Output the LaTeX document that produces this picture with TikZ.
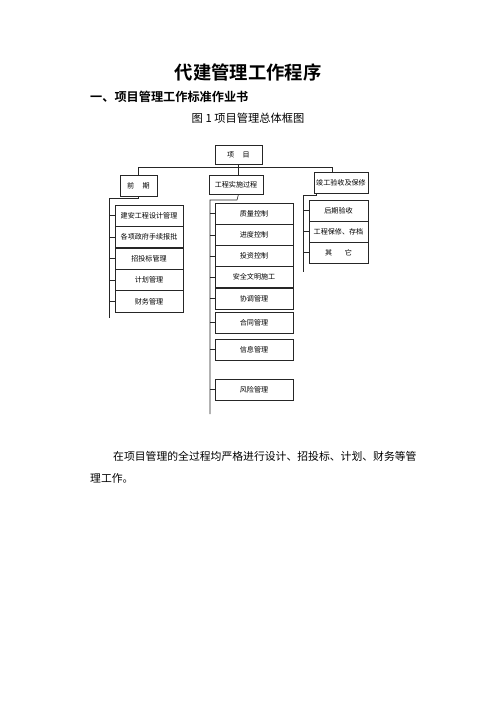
\documentclass[tikz,border=0pt]{standalone}
\usepackage{fontspec}
\setmainfont{Noto Sans CJK SC}[BoldFont={Noto Sans CJK SC Bold}]
\usetikzlibrary{calc}
\tikzset{
  bx/.style={draw=black!85, line width=0.7pt, rectangle, inner sep=0pt, font=\fontsize{8.5pt}{9pt}\selectfont},
  cbox/.style={bx, minimum height=25.5pt},
  ln/.style={draw=black!85, line width=0.7pt},
}
\begin{document}
\begin{tikzpicture}[x=1.2pt,y=-1.2pt]
\useasboundingbox (0,0) rectangle (496,702);
% texts
\node[font=\fontsize{22pt}{24pt}\selectfont\bfseries] (title) at (248,72) {代建管理工作程序};
\node[font=\fontsize{14.6pt}{16pt}\selectfont\bfseries, anchor=west, inner sep=0pt] (head) at (90,97) {一、项目管理工作标准作业书};
\node[font=\fontsize{13.5pt}{15pt}\selectfont] (cap) at (248,118) {图 1 项目管理总体框图};
% top level
\node[bx, minimum width=56.4pt, minimum height=22.8pt] (xm) at (238.5,154.5) {项\hspace{1.2em}目};
\node[bx, minimum width=44.4pt, minimum height=25.2pt] (qq) at (138.5,185.5) {前\hspace{1.2em}期};
\node[bx, minimum width=64.8pt, minimum height=22.8pt] (gc) at (236,184.5) {工程实施过程};
\node[bx, minimum width=64.8pt, minimum height=25.2pt] (jg) at (341,182.5) {竣工验收及保修};
% qq children
\foreach \n/\t [count=\i from 0] in {a1/建安工程设计管理,a2/各项政府手续报批,a3/招投标管理,a4/计划管理,a5/财务管理}{
  \node[cbox, minimum width=81.6pt] (\n) at (149,{215.7+21.4*\i}) {\t};
}
% gc children
\foreach \n/\t [count=\i from 0] in {b1/质量控制,b2/进度控制,b3/投资控制,b4/安全文明施工,b5/协调管理}{
  \node[cbox, minimum width=93.6pt] (\n) at (254,{213.6+21.2*\i}) {\t};
}
\node[cbox, minimum width=93.6pt] (b6) at (254,322.5) {合同管理};
\node[cbox, minimum width=93.6pt] (b7) at (254,349.5) {信息管理};
\node[cbox, minimum width=93.6pt] (b8) at (254,389.5) {风险管理};
% jg children
\node[cbox, minimum width=70.8pt] (c1) at (338.5,210.5) {后期验收};
\node[cbox, minimum width=70.8pt] (c2) at (338.5,231.5) {工程保修、存档};
\node[cbox, minimum width=70.8pt] (c3) at (338.5,252.5) {其\hspace{1.8em}它};
% connectors top
\coordinate (busL) at (138.5,167);
\coordinate (jgtop) at (332,172);
\draw[ln] (xm.south) -- (xm.south|-busL);
\draw[ln] (qq.north) -- (busL) -| (jgtop);
\draw[ln] (xm.south|-busL) -- (xm.south|-gc.north);
% qq spine
\coordinate (qs1) at (138.5,198);
\coordinate (qs2) at (109,198);
\coordinate (qs3) at (109,318);
\draw[ln] (qq.south) -- (qs1) -- (qs2) -- (qs3);
\foreach \n in {a1,a2,a3,a4,a5}{ \draw[ln] (\n.west) -- (qs2|-\n.west); }
% gc spine
\coordinate (gs1) at (237,200);
\coordinate (gs2) at (210,200);
\coordinate (gs3) at (210,414);
\draw[ln] (xm.south|-gc.south) -- (gs1) -- (gs2) -- (gs3);
\foreach \n in {b1,b2,b3,b4,b5,b6,b7,b8}{ \draw[ln] (\n.west) -- (gs2|-\n.west); }
% jg spine
\coordinate (js0) at (316,193);
\coordinate (js1) at (316,195);
\coordinate (js2) at (303,195);
\coordinate (js3) at (303,272);
\draw[ln] (js0) -- (js1) -- (js2) -- (js3);
\foreach \n in {c1,c2,c3}{ \draw[ln] (\n.west) -- (js2|-\n.west); }
% body text
\node[font=\fontsize{13pt}{15pt}\selectfont, anchor=base west, inner sep=0pt] (p1) at (113,460) {在项目管理的全过程均严格进行设计、招投标、计划、财务等管};
\node[font=\fontsize{13pt}{15pt}\selectfont, anchor=base west, inner sep=0pt] (p2) at (90,482) {理工作。};
\end{tikzpicture}
\end{document}
